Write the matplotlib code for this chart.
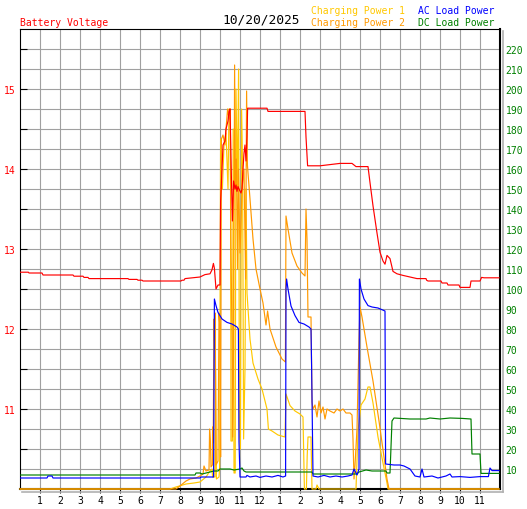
import matplotlib
matplotlib.use("Agg")
import matplotlib.pyplot as plt
from matplotlib.lines import Line2D

plt.rcParams['font.family'] = ['DejaVu Sans Mono', 'DejaVu Sans']

# ---------------- data ----------------
date_title = "10/20/2025"
hour_ticks = list(range(1, 24))
hour_labels = ['1', '2', '3', '4', '5', '6', '7', '8', '9', '10', '11', '12',
               '1', '2', '3', '4', '5', '6', '7', '8', '9', '10', '11']
volt_labels = [11, 12, 13, 14, 15]
power_labels = list(range(10, 230, 10))

volt_t = [0, 0.42, 0.45, 1.1, 1.15, 2.65, 2.7, 3.15, 3.2, 3.4, 3.45, 5.4, 5.45, 5.85,
          5.9, 6.1, 6.15, 8.05, 8.1, 8.2, 8.25, 9.0, 9.25, 9.5, 9.6, 9.67, 9.72, 9.8,
          9.9, 10.0, 10.03, 10.1, 10.15, 10.25, 10.3, 10.4, 10.45, 10.5, 10.53, 10.57,
          10.62, 10.68, 10.75, 10.8, 10.85, 10.9, 10.95, 11.05, 11.1, 11.15, 11.2,
          11.25, 11.3, 11.35, 11.38, 12.35, 12.4, 14.25, 14.3, 14.38, 15.0, 16.0,
          16.6, 16.8, 17.4, 17.5, 17.65, 17.85, 18.0, 18.15, 18.25, 18.35, 18.5,
          18.65, 18.85, 19.15, 19.5, 19.85, 20.3, 20.33, 20.4, 21.05, 21.1, 21.35,
          21.4, 21.95, 22.0, 22.5, 22.55, 23.0, 23.08, 23.2, 23.95]
volt_v = [12.71, 12.71, 12.70, 12.70, 12.675, 12.675, 12.66, 12.66, 12.645, 12.645,
          12.63, 12.63, 12.62, 12.62, 12.61, 12.61, 12.60, 12.60, 12.61, 12.61, 12.63,
          12.65, 12.68, 12.69, 12.74, 12.82, 12.76, 12.50, 12.55, 12.55, 13.60, 14.00,
          14.30, 14.35, 14.50, 14.60, 14.72, 14.75, 14.40, 13.90, 13.35, 13.85, 13.75,
          13.80, 13.72, 13.78, 13.75, 13.70, 13.75, 14.00, 14.20, 14.30, 14.10, 14.40,
          14.76, 14.76, 14.72, 14.72, 14.40, 14.04, 14.04, 14.07, 14.07, 14.03, 14.03,
          13.83, 13.54, 13.20, 12.96, 12.85, 12.81, 12.92, 12.88, 12.72, 12.69, 12.67,
          12.65, 12.63, 12.63, 12.61, 12.60, 12.60, 12.575, 12.575, 12.55, 12.55,
          12.52, 12.52, 12.60, 12.60, 12.645, 12.64, 12.64]

cp1_t = [0, 7.5, 7.8, 8.3, 8.7, 9.0, 9.3, 9.5, 9.6, 9.63, 9.75, 9.78, 9.82, 9.95,
         9.98, 10.03, 10.08, 10.12, 10.2, 10.3, 10.4, 10.45, 10.52, 10.55, 10.62,
         10.66, 10.7, 10.76, 10.8, 10.87, 10.93, 10.97, 11.02, 11.08, 11.13, 11.18,
         11.25, 11.3, 11.35, 11.5, 11.65, 11.9, 12.1, 12.35, 12.42, 12.6, 12.9, 13.25,
         13.3, 13.5, 13.75, 14.0, 14.15, 14.22, 14.32, 14.36, 14.4, 14.55, 14.6, 14.8,
         14.85, 14.95, 16.8, 16.9, 17.05, 17.25, 17.4, 17.5, 17.65, 17.9, 18.15, 18.35,
         18.4, 23.95]
cp1_v = [0, 0, 1, 2.5, 3, 3.5, 6, 9, 10, 6, 6, 60, 5, 6, 10, 175, 150, 150, 172, 178,
         150, 190, 190, 24, 24, 180, 8, 8, 200, 150, 210, 30, 20, 190, 160, 25, 60, 150,
         98, 75, 63, 55, 50, 40, 30, 29, 27, 26, 47.5, 41.7, 39, 37.5, 36, 0, 0, 16.5,
         26, 26, 0, 0, 2, 0, 0, 29, 42, 45, 51, 51, 43, 26, 13, 3, 0, 0]

cp2_t = [0, 7.8, 8.0, 8.3, 8.5, 8.8, 9.0, 9.15, 9.2, 9.3, 9.45, 9.48, 9.52, 9.55, 9.62,
         9.63, 9.66, 9.7, 9.73, 9.76, 9.8, 9.9, 9.95, 10.0, 10.03, 10.07, 10.15, 10.25,
         10.3, 10.38, 10.45, 10.5, 10.55, 10.6, 10.63, 10.68, 10.73, 10.77, 10.82,
         10.88, 10.92, 11.0, 11.1, 11.2, 11.28, 11.33, 11.37, 11.5, 11.65, 11.8, 12.0,
         12.15, 12.3, 12.38, 12.5, 12.8, 13.1, 13.27, 13.3, 13.4, 13.6, 13.85, 14.1,
         14.25, 14.3, 14.35, 14.4, 14.55, 14.6, 14.65, 14.75, 14.85, 14.95, 15.05,
         15.15, 15.25, 15.35, 15.5, 15.7, 15.85, 16.0, 16.15, 16.3, 16.5, 16.6, 16.65,
         16.7, 16.75, 16.85, 16.95, 17.0, 17.1, 17.35, 17.65, 17.95, 18.2, 18.35, 18.45,
         23.95]
cp2_v = [0, 0, 1.5, 4, 5, 5.5, 6.5, 7.5, 11.5, 9, 9.5, 30, 24, 11, 12, 31, 23, 85, 70,
         88, 12, 14, 88, 80, 16, 175, 177, 172, 180, 190, 185, 190, 120, 75, 26, 70, 212,
         150, 165, 110, 160, 118, 150, 160, 105, 199, 162, 145, 125, 110, 100, 93, 82,
         89, 80, 71, 65, 63.5, 136.5, 130, 118, 111.5, 108, 106.5, 140, 125, 86, 86,
         43.5, 40, 42, 36, 44, 38, 41, 35, 40, 39, 38, 40, 39, 40, 38, 38, 37, 25, 5,
         12, 30, 75, 91, 86, 71, 54, 34, 16, 5, 0, 0]

ac_t = [0, 1.35, 1.4, 1.6, 1.65, 9.0, 9.05, 9.68, 9.72, 9.8, 9.9, 10.1, 10.35, 10.6,
        10.85, 10.92, 10.95, 11.0, 11.3, 11.35, 11.5, 11.8, 12.0, 12.3, 12.6, 12.9,
        13.15, 13.28, 13.3, 13.33, 13.4, 13.55, 13.75, 13.95, 14.2, 14.45, 14.55,
        14.58, 14.65, 14.9, 15.2, 15.5, 15.8, 16.1, 16.4, 16.6, 16.7, 16.85, 16.95,
        16.97, 17.05, 17.2, 17.4, 17.6, 17.9, 18.25, 18.28, 18.7, 19.0, 19.2, 19.5,
        19.75, 20.0, 20.1, 20.2, 20.6, 20.9, 21.3, 21.5, 21.6, 22.0, 22.5, 23.0, 23.42,
        23.5, 23.6, 23.95]
ac_v = [5.5, 5.5, 6.5, 6.5, 5.5, 5.5, 6, 6, 95, 91.7, 88.3, 85, 83.3, 82.5, 81, 80,
        23.5, 6, 6, 6.8, 6, 6.5, 5.8, 6.5, 6, 6.8, 6, 6.5, 100, 105, 100, 91.5, 86.7,
        83.3, 82.5, 81, 80, 61.7, 6.5, 6, 6.8, 6, 6.5, 6, 6.5, 7, 10, 7, 10, 105, 100,
        95, 91.7, 91, 90.5, 89, 12.5, 12, 12, 11.5, 10, 6.5, 6, 10, 6, 6.5, 5.5, 6.5,
        7.5, 6, 6.2, 5.8, 6.2, 6.2, 10.5, 9.2, 9.2]

dc_t = [0, 8.75, 8.8, 9.0, 9.1, 9.5, 9.7, 9.9, 10.0, 10.5, 10.7, 11.0, 11.1, 11.2,
        11.3, 14.6, 14.65, 16.85, 16.95, 17.3, 17.6, 18.3, 18.35, 18.5, 18.6, 18.7,
        19.5, 20.3, 20.5, 21.0, 21.5, 22.1, 22.55, 22.6, 23.0, 23.05, 23.95]
dc_v = [7, 7, 8, 8, 7.5, 8.5, 9, 9, 10, 10, 9.5, 10, 10.5, 9, 8.5, 8.5, 7.5, 7.5, 8.5,
        9.5, 9, 9, 8, 8, 34, 35.5, 35, 35, 35.5, 35, 35.5, 35.3, 35, 17.5, 17.5, 7.8,
        7.8]

# ---------------- figure ----------------
W, H = 527, 510
fig = plt.figure(figsize=(W / 100, H / 100), dpi=100)
L, R, T, B = 20, 500, 30, 490
ax = fig.add_axes([L / W, 1 - B / H, (R - L) / W, (B - T) / H])
ax2 = ax.twinx()

C_CP1 = '#ffc800'
C_CP2 = '#ff9900'
C_AC = '#0000ff'
C_DC = '#008000'
C_V = '#ff0000'
grid_c = '#a0a0a0'

# power axis (right)
ax.set_xlim(0, 24)
ax.set_ylim(0, 230)
ax.set_xticks(hour_ticks)
ax.set_xticklabels(hour_labels)
ax.yaxis.tick_right()
ax.yaxis.set_label_position('right')
ax.set_yticks(power_labels)
ax.set_yticklabels([str(p) for p in power_labels])
ax.grid(True, color=grid_c, lw=0.8)
ax.tick_params(axis='x', direction='out', length=3, width=0.8, pad=1.5,
               labelsize=7, colors='black')
ax.tick_params(axis='y', which='both', left=False, labelleft=False,
               right=True, labelright=True, length=0, pad=4,
               labelsize=7, labelcolor=C_DC)

for s in ['left', 'top']:
    ax.spines[s].set_linewidth(0.8)
    ax.spines[s].set_color('black')
for s in ['right', 'bottom']:
    ax.spines[s].set_linewidth(1.5)
    ax.spines[s].set_color('black')

lw = 0.85
ax.plot(cp1_t, cp1_v, color=C_CP1, lw=lw, zorder=3, clip_on=False)
ax.plot(cp2_t, cp2_v, color=C_CP2, lw=lw, zorder=3.1, clip_on=False)
ax.plot(dc_t, dc_v, color=C_DC, lw=lw, zorder=3.2)
ax.plot(ac_t, ac_v, color=C_AC, lw=lw, zorder=3.3)

# voltage axis (left)
ax2.set_ylim(10, 15.75)
ax2.yaxis.tick_left()
ax2.yaxis.set_label_position('left')
vt = [10.5 + 0.5 * i for i in range(11)]
ax2.set_yticks(vt)
ax2.set_yticklabels([str(int(v)) if v in volt_labels else '' for v in vt])
ax2.tick_params(axis='y', which='both', right=False, labelright=False,
                left=True, labelleft=True, direction='in', length=5, width=0.8,
                pad=3, labelsize=7, color='black', labelcolor=C_V)
for s in ax2.spines.values():
    s.set_visible(False)
ax2.plot(volt_t, volt_v, color=C_V, lw=lw, zorder=4)

# shadow on right / bottom edge
fig.add_artist(Line2D([(R + 2.5) / W, (R + 2.5) / W], [1 - (T + 2) / H, 1 - (B + 3) / H],
                      transform=fig.transFigure, color='#b0b0b0', lw=1.2))
fig.add_artist(Line2D([(L + 2) / W, (R + 3) / W], [1 - (B + 2.5) / H, 1 - (B + 2.5) / H],
                      transform=fig.transFigure, color='#b0b0b0', lw=1.2))

# texts
def px(x, y):
    return x / W, 1 - y / H

fig.text(*px(20, 23), "Battery Voltage", color=C_V, fontsize=7, va='center', ha='left')
fig.text(*px(222, 20), date_title, color='black', fontsize=9.3, va='center', ha='left')
fig.text(*px(311, 11), "Charging Power 1", color=C_CP1, fontsize=7, va='center', ha='left')
fig.text(*px(311, 23), "Charging Power 2", color=C_CP2, fontsize=7, va='center', ha='left')
fig.text(*px(418, 11), "AC Load Power", color=C_AC, fontsize=7, va='center', ha='left')
fig.text(*px(418, 23), "DC Load Power", color=C_DC, fontsize=7, va='center', ha='left')

fig.savefig('out.png', dpi=100)
